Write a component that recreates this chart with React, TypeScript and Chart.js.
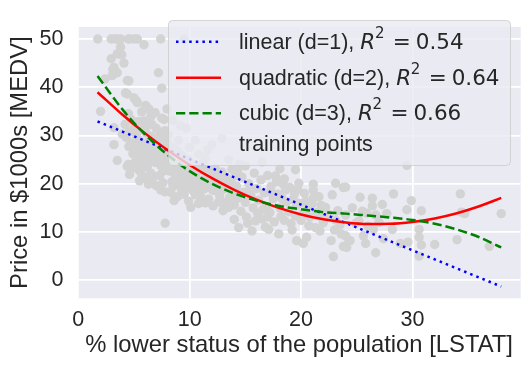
import React, { useEffect, useRef } from "react";
import { Chart, registerables } from "chart.js";

Chart.register(...registerables);

// [LSTAT, MEDV] training points
const trainingPoints: [number, number][] = [
  [1.75, 50], [2.95, 50], [3.3, 50], [3.5, 50], [3.8, 50], [4.5, 50], [4.6, 50], [5.0, 50], [5.3, 50], [7.4, 50], [9.5, 50],
  [5.9, 48.8], [3.8, 48.3], [3.9, 46.7], [3.5, 46.9], [2.95, 45.9], [4.1, 45.0], [3.2, 44.1], [3.1, 43.7], [3.5, 43.0],
  [3.04, 42.4], [2.4, 41.7], [4.54, 41.3], [4.4, 41.4], [7.2, 43.0], [7.5, 39.8], [4.24, 38.8], [4.4, 38.6], [5.0, 37.8],
  [5.2, 37.2], [5.3, 36.8], [6.33, 35.5], [7.97, 35.5], [2.0, 35.0], [5.7, 34.9], [6.5, 33.9], [7.5, 33.6], [7.7, 33.3],
  [5.43, 32.9], [6.6, 32.3], [3.2, 31.6], [3.94, 30.3], [7.38, 30.3], [4.54, 27.7], [3.2, 28.1], [3.5, 24.8],
  [4.5, 34.5], [4.8, 33.2], [5.0, 31.5], [5.2, 30.0], [5.5, 29.0], [5.6, 31.2], [5.8, 27.9], [6.0, 26.5], [6.1, 30.5],
  [6.3, 28.7], [6.4, 25.0], [6.6, 29.8], [6.7, 27.0], [6.9, 24.4], [7.0, 31.5], [7.1, 28.2], [7.2, 26.0], [7.4, 23.8],
  [7.5, 27.5], [7.6, 29.5], [7.7, 25.2], [7.8, 31.0], [7.9, 23.1], [8.0, 28.4], [4.6, 30.8], [4.7, 28.5], [4.9, 26.2],
  [5.1, 24.5], [5.3, 27.1], [5.4, 22.9], [5.7, 24.0], [5.9, 33.0], [6.2, 23.5], [6.5, 22.2], [6.8, 21.5], [7.3, 21.7],
  [4.3, 29.6], [4.4, 23.6], [4.2, 32.3], [8.1, 24.6], [6.05, 36.2], [6.9, 34.7], [4.5, 24.0], [5.6, 22.4], [6.0, 21.3],
  [4.8, 23.2], [5.5, 20.6], [6.6, 20.6], [7.8, 18.3], [7.4, 18.7], [7.8, 11.8], [7.0, 19.6], [6.3, 19.9], [7.6, 20.2],
  [5.9, 25.6], [6.8, 26.0], [7.3, 24.9], [4.6, 21.9],
  [5.2, 28.2], [6.2, 32.1], [7.0, 29.4], [7.9, 26.6], [6.4, 27.0], [5.6, 25.5], [7.6, 22.6], [8.2, 27.3],
  [8.6, 16.5], [10.1, 15.1], [11.4, 16.0], [12.1, 15.4], [13.0, 14.4], [10.5, 17.7], [9.3, 18.7], [8.2, 22.6], [8.4, 20.4],
  [8.5, 19.4], [8.7, 23.4], [8.8, 21.2], [9.0, 19.8], [9.1, 24.1], [9.2, 22.0], [9.4, 20.6], [9.5, 17.8], [9.6, 23.0],
  [9.7, 21.4], [9.8, 19.2], [9.9, 25.0], [10.0, 22.2], [10.2, 20.3], [10.3, 18.5], [10.4, 23.6], [10.6, 21.0], [10.7, 19.6],
  [10.9, 22.7], [11.0, 17.2], [11.1, 20.5], [11.2, 24.2], [11.3, 18.9], [11.5, 21.7], [11.6, 19.9], [11.7, 16.8], [11.8, 22.8],
  [12.0, 20.8], [12.1, 18.6], [12.3, 23.1], [12.4, 19.4], [12.5, 21.6], [12.7, 17.5], [12.8, 20.0], [12.9, 22.4], [13.1, 18.9],
  [13.2, 16.1], [13.3, 21.2], [13.4, 19.3], [13.6, 17.2], [13.7, 20.6], [13.9, 18.4], [14.0, 15.6], [14.1, 21.7], [8.3, 25.4],
  [8.9, 26.7], [9.3, 25.8], [10.8, 26.1], [12.0, 28.1], [12.9, 29.4], [8.6, 27.4], [10.0, 27.5], [11.4, 25.3], [8.1, 30.1],
  [9.0, 29.0], [9.7, 31.5], [10.5, 29.0], [11.6, 27.0], [13.5, 25.0], [14.5, 24.1], [8.5, 33.1], [9.2, 32.0], [13.5, 15.1],
  [13.1, 14.8], [8.9, 17.3], [9.9, 16.4], [10.8, 15.9], [12.6, 16.2],
  [8.3, 18.2], [9.6, 20.1], [10.4, 21.6], [11.9, 19.1], [12.2, 22.0], [13.0, 20.7], [10.9, 18.1], [9.3, 23.0], [11.3, 23.1],
  [12.6, 18.3], [13.8, 19.7], [8.7, 21.9], [10.1, 24.4], [14.3, 22.8],
  [14.4, 10.9], [15.2, 11.8], [15.6, 10.2], [17.1, 10.5], [18.0, 9.6], [19.6, 8.2], [20.2, 7.6], [20.5, 8.9], [21.3, 10.9],
  [21.7, 10.2], [22.7, 8.2], [22.9, 4.9], [23.8, 7.0], [24.3, 8.2], [25.8, 7.6], [25.6, 9.2], [21.1, 19.9], [21.1, 18.7],
  [21.1, 17.0], [23.1, 20.1], [23.8, 19.2], [25.3, 17.2], [26.4, 17.0], [26.4, 15.4], [18.4, 19.9], [18.6, 18.7], [19.3, 16.7],
  [19.6, 15.4], [20.2, 13.8], [20.8, 13.1], [21.9, 12.8], [23.1, 12.5], [23.5, 11.5],
  [14.2, 19.5], [14.3, 17.0], [14.6, 14.3], [14.7, 21.4], [14.8, 18.2], [15.0, 16.1], [15.1, 13.1], [15.3, 20.0], [15.5, 17.6],
  [15.7, 15.0], [15.8, 22.2], [16.0, 19.0], [16.1, 13.9], [16.2, 16.6], [16.4, 20.8], [16.5, 12.7], [16.7, 18.1], [16.9, 15.3],
  [17.0, 21.7], [17.2, 14.0], [17.3, 19.4], [17.5, 16.9], [17.6, 12.1], [17.8, 20.4], [17.9, 17.8], [18.1, 15.0], [18.2, 13.2],
  [18.5, 21.0], [18.7, 16.2], [18.9, 14.2], [19.0, 19.2], [19.1, 11.7], [19.4, 17.9], [19.5, 13.3], [19.8, 20.1], [19.9, 15.9],
  [20.0, 12.4], [20.3, 18.0], [20.6, 14.9], [20.7, 11.3], [21.0, 15.8], [21.4, 14.0], [21.6, 17.3], [22.0, 11.9], [22.2, 15.1],
  [22.5, 13.6], [22.8, 17.7], [23.0, 10.4], [23.3, 14.4], [23.6, 9.6], [24.0, 13.5], [24.0, 9.2], [24.1, 6.8], [24.4, 8.2],
  [24.6, 15.0], [24.9, 11.8], [24.0, 19.3], [15.0, 23.7], [16.5, 24.5], [18.1, 23.1], [19.5, 22.9], [13.8, 23.0], [17.7, 21.6],
  [14.0, 12.6], [16.8, 11.0], [18.5, 12.4], [19.2, 10.4],
  [15.4, 18.9], [16.6, 14.7], [17.4, 18.0], [18.3, 16.9], [19.7, 18.8], [15.9, 12.3], [17.0, 13.1], [20.4, 16.4], [21.8, 15.5],
  [25.2, 12.3], [25.9, 13.9], [27.3, 15.7], [28.3, 17.9], [29.9, 16.5], [29.5, 14.6], [30.8, 14.4], [27.7, 13.8], [26.5, 10.5],
  [28.2, 10.5], [30.6, 10.5], [30.6, 8.9], [30.8, 7.3], [29.6, 7.9], [28.9, 7.6], [27.4, 8.6], [26.7, 5.7], [30.6, 5.0],
  [32.0, 7.4], [34.0, 8.4], [34.3, 17.9], [34.4, 14.1], [34.7, 13.8], [36.9, 7.0], [37.97, 13.8], [29.5, 23.8], [26.7, 13.5],
  [25.5, 14.3], [26.0, 11.2], [27.0, 12.0],
];

// fitted curves, sampled along LSTAT
const fitX = [1.73, 4, 6, 8, 10, 12, 14, 16, 18, 20, 22, 24, 26, 28, 30, 32, 34, 36, 37.97];
const linearFit = [32.9, 30.76, 28.87, 26.98, 25.09, 23.21, 21.32, 19.43, 17.54, 15.65, 13.77, 11.88, 9.99, 8.1, 6.21, 4.33, 2.44, 0.55, -1.3];
const quadraticFit = [38.96, 34.23, 30.43, 26.99, 23.89, 21.14, 18.74, 16.69, 14.98, 13.63, 12.62, 11.96, 11.65, 11.69, 12.07, 12.81, 13.89, 15.32, 17.07];
const cubicFit = [42.3, 35.3, 30.2, 26.0, 22.6, 20.0, 18.0, 16.5, 15.4, 14.7, 14.1, 13.8, 13.4, 13.0, 12.5, 11.7, 10.5, 8.9, 6.8];

const xTickValues = [0, 10, 20, 30];
const yTickValues = [0, 10, 20, 30, 40, 50];
const seriesLabels = ["linear (d=1), ", "quadratic (d=2), ", "cubic (d=3), ", "training points"];
const r2Scores = ["0.54", "0.64", "0.66"];
const xTitle = "% lower status of the population [LSTAT]";
const yTitle = "Price in $1000s [MEDV]";

const SANS = "'Liberation Sans', Arial, sans-serif";
const MATH = "'DejaVu Sans', sans-serif";
const TEXT = "#262626";
const LINE_COLORS = ["#0000ff", "#ff0000", "#008000"];
const LINE_DASHES = [[2.5, 4.1], [], [9.25, 4]];

const bgPlugin = {
  id: "axesBg",
  beforeDraw(chart: any) {
    const { ctx, chartArea: a } = chart;
    ctx.save();
    ctx.fillStyle = "#EAEAF2";
    ctx.fillRect(a.left, a.top, a.right - a.left, a.bottom - a.top);
    ctx.restore();
  },
};

const legendPlugin = {
  id: "mplLegend",
  afterDraw(chart: any) {
    const ctx: CanvasRenderingContext2D = chart.ctx;
    ctx.save();
    const bx = 168.5, by = 20.5, bw = 342, bh = 145, r = 4;
    ctx.beginPath();
    ctx.moveTo(bx + r, by);
    ctx.lineTo(bx + bw - r, by);
    ctx.arcTo(bx + bw, by, bx + bw, by + r, r);
    ctx.lineTo(bx + bw, by + bh - r);
    ctx.arcTo(bx + bw, by + bh, bx + bw - r, by + bh, r);
    ctx.lineTo(bx + r, by + bh);
    ctx.arcTo(bx, by + bh, bx, by + bh - r, r);
    ctx.lineTo(bx, by + r);
    ctx.arcTo(bx, by, bx + r, by, r);
    ctx.closePath();
    ctx.fillStyle = "rgba(234,234,242,0.8)";
    ctx.fill();
    ctx.strokeStyle = "rgba(204,204,204,0.8)";
    ctx.lineWidth = 1;
    ctx.stroke();

    const handleY = [41.7, 77.8, 113.3];
    const baseY = [48.9, 85, 120, 150.5];
    for (let i = 0; i < 3; i++) {
      ctx.beginPath();
      ctx.setLineDash(LINE_DASHES[i]);
      ctx.strokeStyle = LINE_COLORS[i];
      ctx.lineWidth = 2.5;
      ctx.moveTo(176, handleY[i]);
      ctx.lineTo(221, handleY[i]);
      ctx.stroke();
    }
    ctx.setLineDash([]);
    ctx.fillStyle = TEXT;
    ctx.textBaseline = "alphabetic";
    ctx.textAlign = "left";
    for (let i = 0; i < 4; i++) {
      ctx.font = `21.5px ${SANS}`;
      ctx.fillText(seriesLabels[i], 239, baseY[i]);
      if (i < 3) {
        const rx = 239 + ctx.measureText(seriesLabels[i]).width;
        ctx.font = `italic 21.5px ${MATH}`;
        ctx.fillText("R", rx, baseY[i]);
        ctx.font = `15px ${MATH}`;
        ctx.fillText("2", rx + 14.6, baseY[i] - 11);
        ctx.font = `21.5px ${MATH}`;
        ctx.fillText("=", rx + 32.5, baseY[i]);
        ctx.fillText(r2Scores[i], rx + 55.5, baseY[i]);
      }
    }
    ctx.restore();
  },
};

export default function App() {
  const canvasRef = useRef<HTMLCanvasElement | null>(null);

  useEffect(() => {
    const canvas = canvasRef.current;
    if (!canvas) return;
    const lineSet = (ys: number[], i: number, order: number) => ({
      data: fitX.map((x, k) => ({ x, y: ys[k] })),
      showLine: true,
      borderColor: LINE_COLORS[i],
      backgroundColor: LINE_COLORS[i],
      borderWidth: 2.5,
      borderDash: LINE_DASHES[i],
      pointRadius: 0,
      cubicInterpolationMode: "monotone" as const,
      order,
    });
    const chart = new Chart(canvas, {
      type: "scatter",
      data: {
        datasets: [
          lineSet(cubicFit, 2, 1),
          lineSet(quadraticFit, 1, 2),
          lineSet(linearFit, 0, 3),
          {
            data: trainingPoints.map(([x, y]) => ({ x, y })),
            backgroundColor: "#d3d3d3",
            borderWidth: 0,
            pointRadius: 4.7,
            showLine: false,
            order: 4,
          } as any,
        ],
      },
      options: {
        responsive: false,
        animation: false,
        devicePixelRatio: 1,
        layout: { padding: { top: 10, right: 11.3, left: 0, bottom: 0 } },
        plugins: { legend: { display: false }, tooltip: { enabled: false } },
        scales: {
          x: {
            type: "linear",
            min: -0.07,
            max: 39.72,
            afterBuildTicks: (s: any) => {
              s.ticks = xTickValues.map((v) => ({ value: v }));
            },
            afterFit: (s: any) => {
              s.height = 70.7;
            },
            grid: { color: "#ffffff", lineWidth: 1.75, drawTicks: false },
            border: { display: false },
            ticks: { color: TEXT, font: { family: SANS, size: 21.5 }, padding: 9, maxRotation: 0, autoSkip: false },
            title: {
              display: true,
              text: xTitle,
              color: TEXT,
              font: { family: SANS, size: 23.8 },
              padding: { top: 0, bottom: 8.8 },
            },
          },
          y: {
            type: "linear",
            min: -3.75,
            max: 52.5,
            afterBuildTicks: (s: any) => {
              s.ticks = yTickValues.map((v) => ({ value: v }));
            },
            afterFit: (s: any) => {
              s.width = 77.5;
            },
            grid: { color: "#ffffff", lineWidth: 1.75, drawTicks: false },
            border: { display: false },
            ticks: { color: TEXT, font: { family: SANS, size: 21.5 }, padding: 14, autoSkip: false },
            title: {
              display: true,
              text: yTitle,
              color: TEXT,
              font: { family: SANS, size: 23.8 },
              padding: { top: 6.4, bottom: 0 },
            },
          },
        },
      },
      plugins: [bgPlugin, legendPlugin],
    });
    return () => chart.destroy();
  }, []);

  return (
    <div style={{ position: "absolute", left: 0, top: 0, width: 532, height: 369 }}>
      <canvas ref={canvasRef} width={532} height={369} style={{ width: 532, height: 369, display: "block" }} />
    </div>
  );
}
